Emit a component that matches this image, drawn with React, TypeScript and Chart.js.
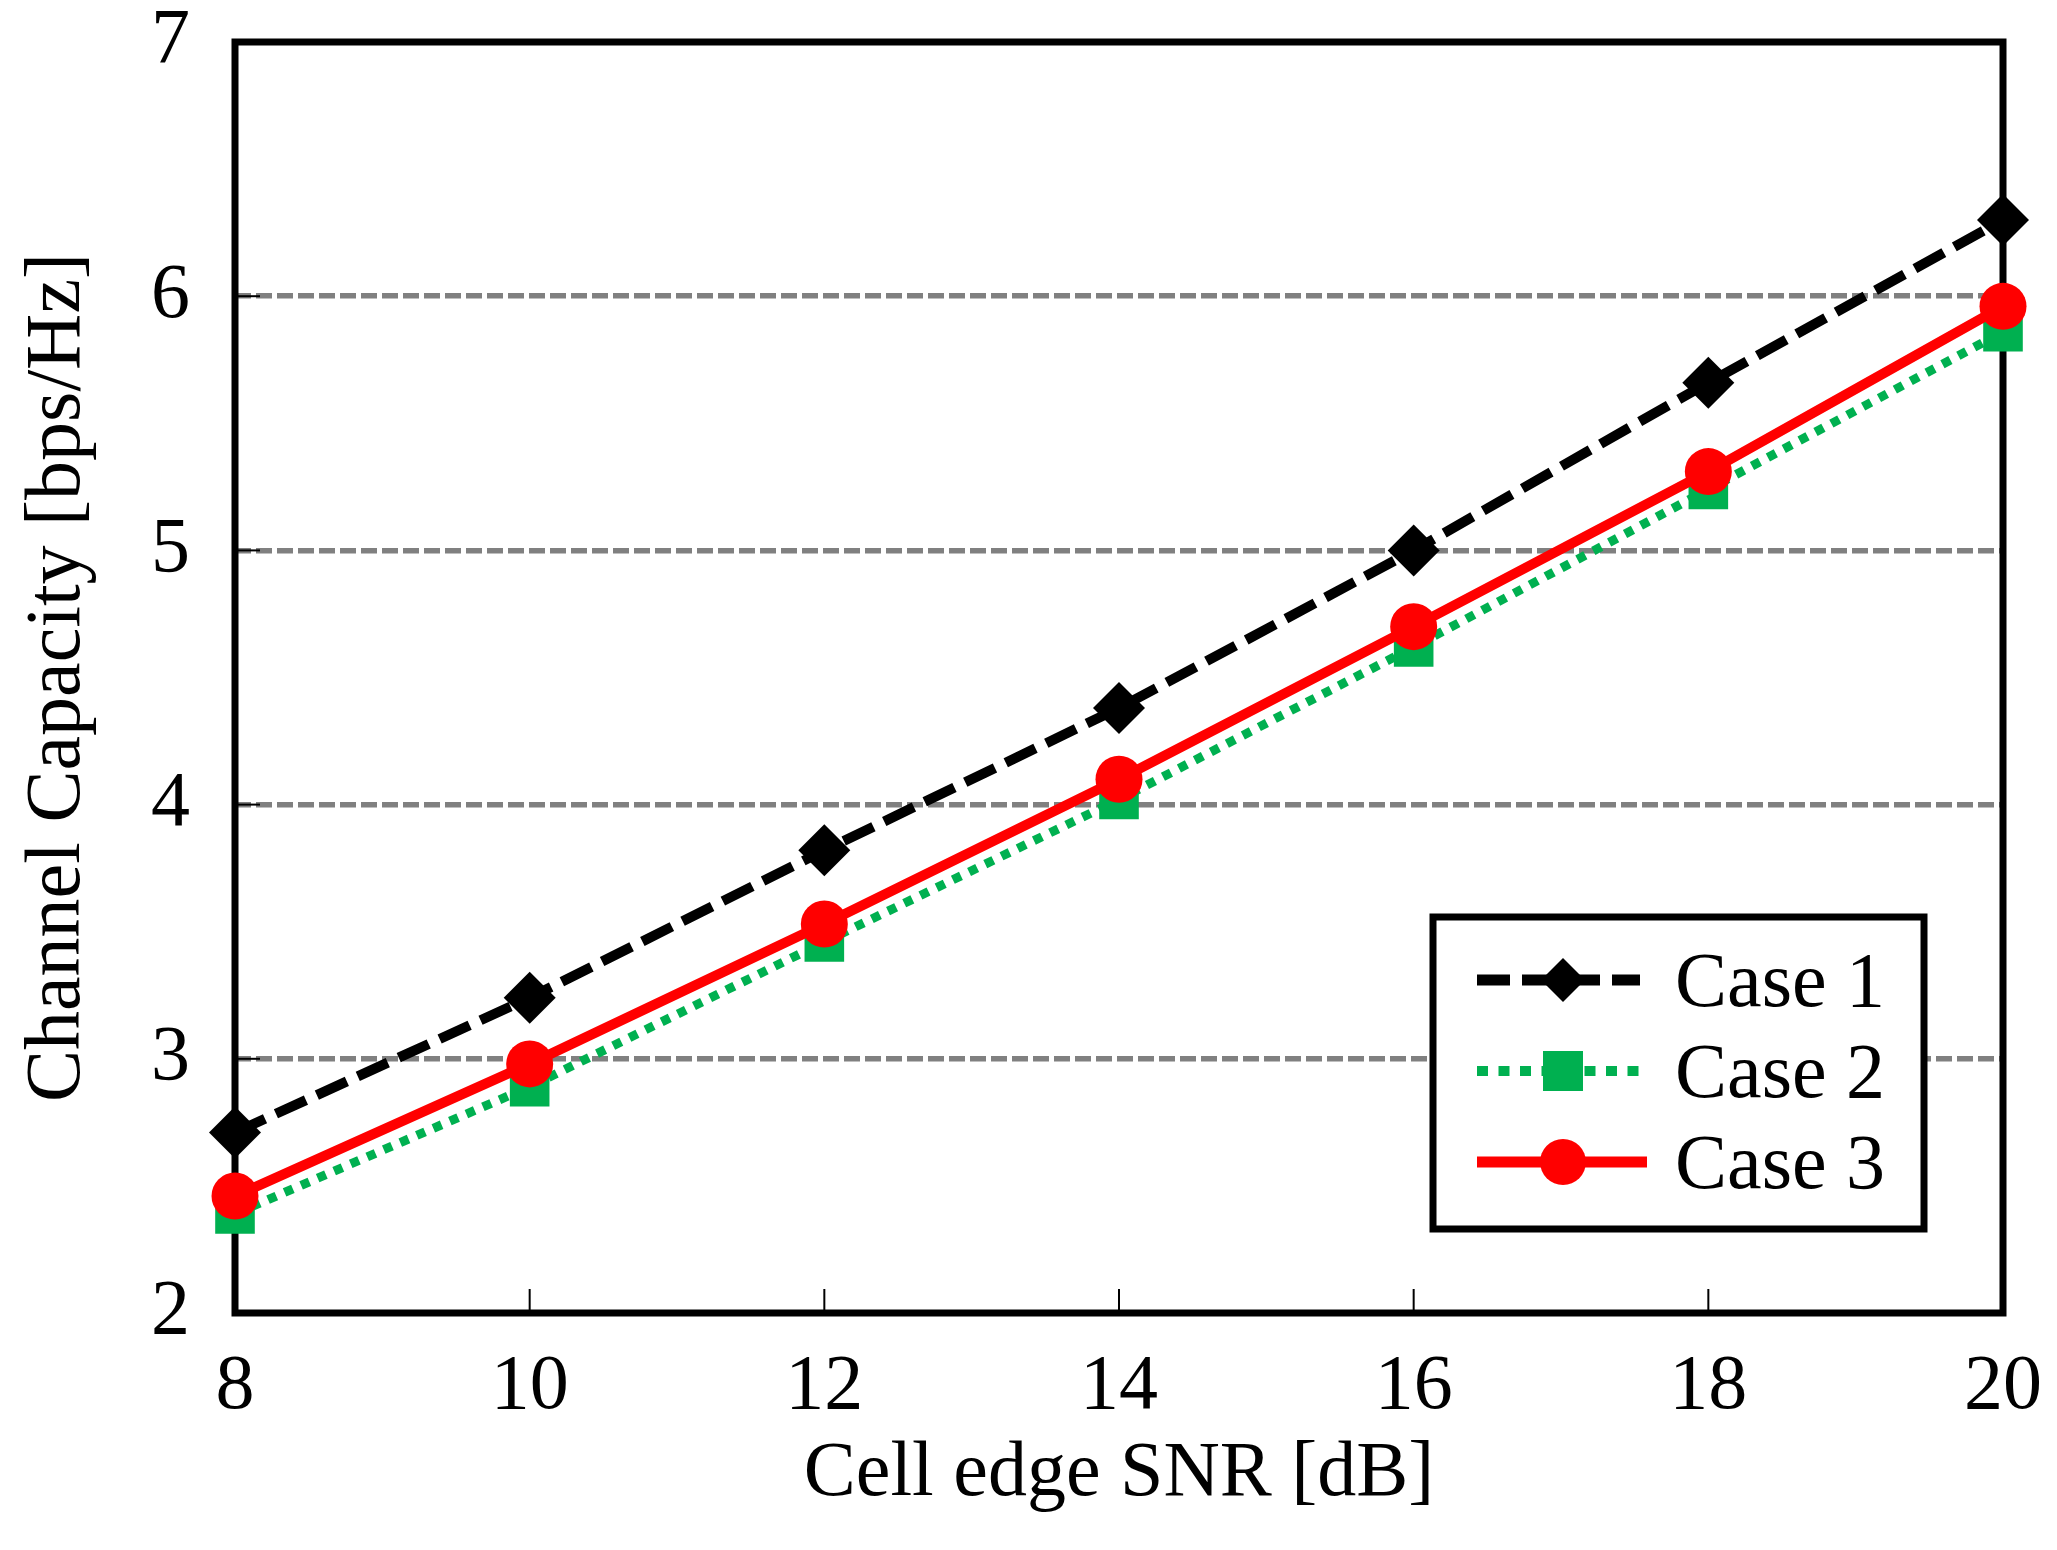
import { useEffect, useRef } from 'react';
import { Chart, registerables } from 'chart.js';

Chart.register(...registerables);

const snrDb = [8, 10, 12, 14, 16, 18, 20];
const case1 = [2.71, 3.24, 3.82, 4.38, 5.0, 5.66, 6.3];
const case2 = [2.39, 2.89, 3.46, 4.02, 4.62, 5.24, 5.86];
const case3 = [2.46, 2.98, 3.53, 4.1, 4.7, 5.31, 5.96];

const seriesNames = ['Case 1', 'Case 2', 'Case 3'];
const xTicks = [8, 10, 12, 14, 16, 18, 20];
const yTicks = [2, 3, 4, 5, 6, 7];

const FONT = '"Liberation Serif", "Times New Roman", serif';
const GREEN = '#00B050';
const RED = '#FF0000';

// frame + inward tick marks, drawn under the lines
const framePlugin = {
  id: 'frame',
  beforeDatasetsDraw(chart: Chart) {
    const { ctx, chartArea: a, scales } = chart;
    ctx.save();
    ctx.strokeStyle = '#000';
    ctx.lineWidth = 2;
    ctx.setLineDash([]);
    xTicks.forEach((v) => {
      const px = scales.x.getPixelForValue(v);
      ctx.beginPath();
      ctx.moveTo(px, a.bottom);
      ctx.lineTo(px, a.bottom - 24);
      ctx.stroke();
    });
    yTicks.forEach((v) => {
      const py = scales.y.getPixelForValue(v);
      ctx.beginPath();
      ctx.moveTo(a.left, py);
      ctx.lineTo(a.left + 25, py);
      ctx.stroke();
    });
    ctx.lineWidth = 7;
    ctx.strokeRect(a.left, a.top, a.right - a.left, a.bottom - a.top);
    ctx.restore();
  },
};

// legend box inside the plot, bottom right
const legendPlugin = {
  id: 'boxLegend',
  afterDatasetsDraw(chart: Chart) {
    const { ctx } = chart;
    const bx = 1433, by = 917, bw = 491, bh = 312;
    ctx.save();
    ctx.fillStyle = '#fff';
    ctx.fillRect(bx, by, bw, bh);
    ctx.lineWidth = 7;
    ctx.strokeStyle = '#000';
    ctx.setLineDash([]);
    ctx.strokeRect(bx, by, bw, bh);

    const rows = [980, 1071, 1162];
    chart.data.datasets.forEach((ds: any, i: number) => {
      const y = rows[i];
      ctx.save();
      ctx.strokeStyle = ds.borderColor;
      ctx.lineWidth = ds.borderWidth + 1;
      ctx.setLineDash(i === 1 ? [11, 10.5] : ds.borderDash || []);
      ctx.lineCap = 'butt';
      ctx.beginPath();
      ctx.moveTo(1477, y);
      ctx.lineTo(i === 2 ? 1647 : 1640, y);
      ctx.stroke();
      ctx.restore();
      ctx.setLineDash([]);
      ctx.fillStyle = ds.pointBackgroundColor;
      // marker
      ctx.beginPath();
      if (ds.pointStyle === 'rectRot') {
        const r = 22;
        ctx.moveTo(1563, y - r);
        ctx.lineTo(1563 + r, y);
        ctx.lineTo(1563, y + r);
        ctx.lineTo(1563 - r, y);
        ctx.closePath();
      } else if (ds.pointStyle === 'rect') {
        ctx.rect(1563 - 20, y - 20, 40, 40);
      } else {
        ctx.arc(1563, y, 23, 0, Math.PI * 2);
      }
      ctx.fill();
      ctx.fillStyle = '#000';
      ctx.font = `78px ${FONT}`;
      ctx.textBaseline = 'alphabetic';
      ctx.textAlign = 'left';
      ctx.fillText(seriesNames[i], 1675, y + 26);
    });
    ctx.restore();
  },
};

export default function App() {
  const chartRef = useRef<HTMLCanvasElement>(null);
  const chartInstance = useRef<Chart | null>(null);

  useEffect(() => {
    if (!chartRef.current) return;
    if (chartInstance.current) chartInstance.current.destroy();
    const ctx = chartRef.current.getContext('2d');
    if (!ctx) return;

    const pts = (arr: number[]) => snrDb.map((x, i) => ({ x, y: arr[i] }));

    chartInstance.current = new Chart(ctx, {
      type: 'line',
      data: {
        datasets: [
          {
            label: seriesNames[0],
            data: pts(case1),
            borderColor: '#000',
            backgroundColor: '#000',
            borderWidth: 10,
            borderDash: [33, 12],
            pointStyle: 'rectRot',
            pointRadius: 26,
            pointBackgroundColor: '#000',
            pointBorderWidth: 0,
            order: 0,
            clip: false,
          },
          {
            label: seriesNames[1],
            data: pts(case2),
            borderColor: GREEN,
            backgroundColor: GREEN,
            borderWidth: 9,
            borderDash: [9, 9],
            pointStyle: 'rect',
            pointRadius: 28,
            pointBackgroundColor: GREEN,
            pointBorderWidth: 0,
            order: 2,
            clip: false,
          },
          {
            label: seriesNames[2],
            data: pts(case3),
            borderColor: RED,
            backgroundColor: RED,
            borderWidth: 10,
            pointStyle: 'circle',
            pointRadius: 23.5,
            pointBackgroundColor: RED,
            pointBorderWidth: 0,
            order: 1,
            clip: false,
          },
        ] as any,
      },
      options: {
        responsive: false,
        animation: false,
        devicePixelRatio: 1,
        layout: { padding: { left: 0, top: 42, right: 54, bottom: 0 } },
        plugins: {
          legend: { display: false },
          tooltip: { enabled: false },
        },
        scales: {
          x: {
            type: 'linear',
            min: 8,
            max: 20,
            afterFit: (s: any) => { s.height = 237; },
            grid: {
              display: true,
              drawOnChartArea: false,
              drawTicks: true,
              tickLength: 36,
              tickColor: 'rgba(0,0,0,0)',
            },
            border: { display: false },
            ticks: {
              stepSize: 2,
              padding: 0,
              color: '#000',
              font: { family: FONT, size: 78, lineHeight: 1 },
              maxRotation: 0,
            },
            title: {
              display: true,
              text: 'Cell edge SNR [dB]',
              color: '#000',
              font: { family: FONT, size: 78, lineHeight: 1.2 },
              padding: { top: 0, bottom: 29 },
            },
          },
          y: {
            type: 'linear',
            min: 2,
            max: 7,
            afterFit: (s: any) => { s.width = 235; },
            grid: {
              drawTicks: true,
              tickLength: 45,
              tickColor: 'rgba(0,0,0,0)',
              lineWidth: 5.5,
              color: (c: any) =>
                c.tick && (c.tick.value === 2 || c.tick.value === 7) ? 'rgba(0,0,0,0)' : '#808080',
            },
            border: { display: false, dash: [16, 5] },
            ticks: {
              stepSize: 1,
              padding: 0,
              color: '#000',
              font: { family: FONT, size: 78, lineHeight: 1 },
            },
            title: {
              display: true,
              text: 'Channel Capacity [bps/Hz]',
              color: '#000',
              font: { family: FONT, size: 78, lineHeight: 1.2 },
              padding: { top: 12, bottom: 0 },
            },
          },
        },
      },
      plugins: [framePlugin, legendPlugin],
    });

    return () => {
      if (chartInstance.current) {
        chartInstance.current.destroy();
        chartInstance.current = null;
      }
    };
  }, []);

  return (
    <div style={{ position: 'fixed', left: 0, top: 0, width: 2057, height: 1550, background: '#fff' }}>
      <canvas ref={chartRef} width={2057} height={1550} style={{ width: 2057, height: 1550 }}></canvas>
    </div>
  );
}
